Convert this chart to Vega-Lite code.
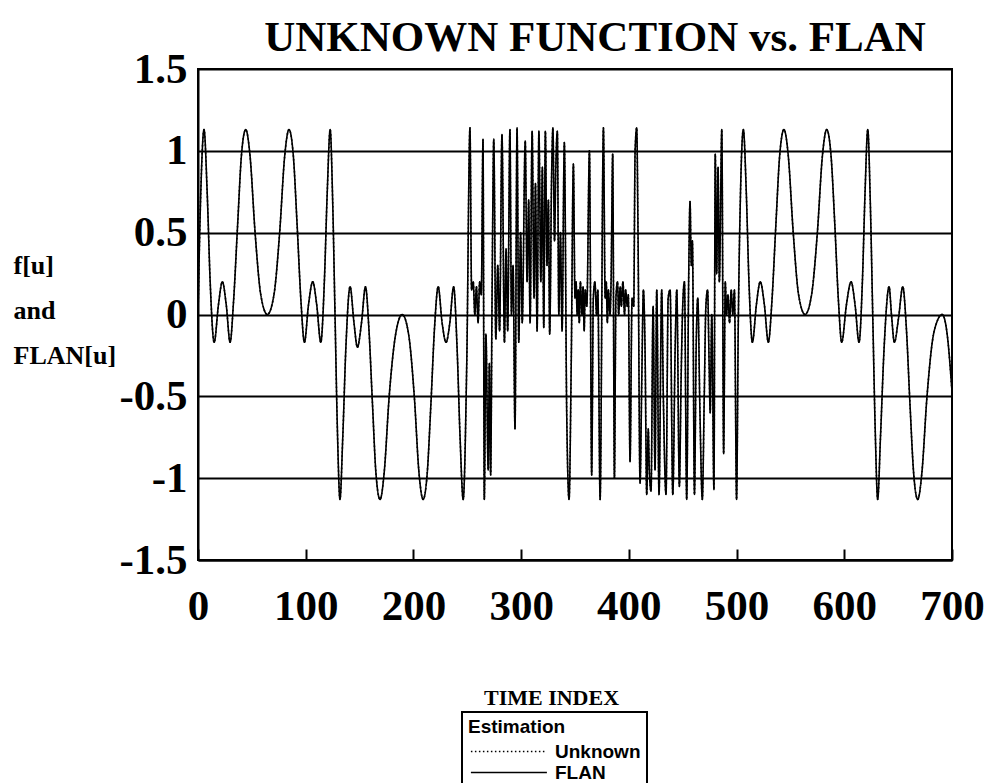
{
  "$schema": "https://vega.github.io/schema/vega-lite/v6.json",
  "width": 754,
  "height": 491,
  "autosize": {"type": "none"},
  "padding": {"left": 198, "top": 69, "right": 37, "bottom": 223},
  "background": "white",
  "title": {
    "text": "UNKNOWN FUNCTION vs. FLAN",
    "font": "Liberation Serif",
    "fontWeight": "bold",
    "fontSize": 43,
    "color": "black",
    "anchor": "middle",
    "dx": 20,
    "offset": -12
  },
  "config": {
    "view": {"stroke": "black", "strokeWidth": 2},
    "legend": {"strokeWidth": 2},
    "axis": {
      "labelFont": "Liberation Serif",
      "labelFontWeight": "bold",
      "labelFontSize": 43,
      "labelColor": "black",
      "titleFont": "Liberation Serif",
      "titleFontWeight": "bold",
      "titleColor": "black",
      "domainColor": "black",
      "domainWidth": 2
    }
  },
  "data": {
    "values": [
      {"u": 0, "Unknown": 0.0, "FLAN": 0.0},
      {"u": 2.6, "Unknown": 0.75, "FLAN": 0.75},
      {"u": 5.6, "Unknown": 1.13, "FLAN": 1.13},
      {"u": 8.5, "Unknown": 0.75, "FLAN": 0.75},
      {"u": 11.3, "Unknown": 0.2, "FLAN": 0.2},
      {"u": 15, "Unknown": -0.17, "FLAN": -0.17},
      {"u": 19, "Unknown": 0.06, "FLAN": 0.06},
      {"u": 22.6, "Unknown": 0.2, "FLAN": 0.2},
      {"u": 26.2, "Unknown": 0.06, "FLAN": 0.06},
      {"u": 29.8, "Unknown": -0.17, "FLAN": -0.17},
      {"u": 33, "Unknown": 0.08, "FLAN": 0.08},
      {"u": 36.8, "Unknown": 0.55, "FLAN": 0.55},
      {"u": 40.3, "Unknown": 0.97, "FLAN": 0.97},
      {"u": 44.3, "Unknown": 1.13, "FLAN": 1.13},
      {"u": 48.3, "Unknown": 0.97, "FLAN": 0.97},
      {"u": 53, "Unknown": 0.5, "FLAN": 0.5},
      {"u": 58.3, "Unknown": 0.12, "FLAN": 0.12},
      {"u": 64.4, "Unknown": 0.0, "FLAN": 0.0},
      {"u": 70.5, "Unknown": 0.12, "FLAN": 0.12},
      {"u": 75.8, "Unknown": 0.5, "FLAN": 0.5},
      {"u": 80.5, "Unknown": 0.97, "FLAN": 0.97},
      {"u": 84.5, "Unknown": 1.13, "FLAN": 1.13},
      {"u": 88.5, "Unknown": 0.97, "FLAN": 0.97},
      {"u": 92, "Unknown": 0.55, "FLAN": 0.55},
      {"u": 95.6, "Unknown": 0.08, "FLAN": 0.08},
      {"u": 98.8, "Unknown": -0.17, "FLAN": -0.17},
      {"u": 102.6, "Unknown": 0.06, "FLAN": 0.06},
      {"u": 106.5, "Unknown": 0.2, "FLAN": 0.2},
      {"u": 110.2, "Unknown": 0.06, "FLAN": 0.06},
      {"u": 114, "Unknown": -0.17, "FLAN": -0.17},
      {"u": 117.3, "Unknown": 0.2, "FLAN": 0.2},
      {"u": 120, "Unknown": 0.75, "FLAN": 0.75},
      {"u": 122.7, "Unknown": 1.13, "FLAN": 1.13},
      {"u": 125, "Unknown": 0.7, "FLAN": 0.7},
      {"u": 127.2, "Unknown": 0.0, "FLAN": 0.0},
      {"u": 129.4, "Unknown": -0.7, "FLAN": -0.7},
      {"u": 131.8, "Unknown": -1.13, "FLAN": -1.13},
      {"u": 134.4, "Unknown": -0.75, "FLAN": -0.75},
      {"u": 137.3, "Unknown": -0.2, "FLAN": -0.2},
      {"u": 141.2, "Unknown": 0.17, "FLAN": 0.17},
      {"u": 144.8, "Unknown": -0.05, "FLAN": -0.05},
      {"u": 148, "Unknown": -0.2, "FLAN": -0.2},
      {"u": 151.8, "Unknown": -0.05, "FLAN": -0.05},
      {"u": 155.5, "Unknown": 0.17, "FLAN": 0.17},
      {"u": 158.6, "Unknown": -0.08, "FLAN": -0.08},
      {"u": 162, "Unknown": -0.55, "FLAN": -0.55},
      {"u": 165.2, "Unknown": -0.97, "FLAN": -0.97},
      {"u": 169, "Unknown": -1.13, "FLAN": -1.13},
      {"u": 172.8, "Unknown": -0.97, "FLAN": -0.97},
      {"u": 177.5, "Unknown": -0.5, "FLAN": -0.5},
      {"u": 183.5, "Unknown": -0.12, "FLAN": -0.12},
      {"u": 189.6, "Unknown": 0.0, "FLAN": 0.0},
      {"u": 195.5, "Unknown": -0.12, "FLAN": -0.12},
      {"u": 200.8, "Unknown": -0.5, "FLAN": -0.5},
      {"u": 205.2, "Unknown": -0.97, "FLAN": -0.97},
      {"u": 209, "Unknown": -1.13, "FLAN": -1.13},
      {"u": 212.8, "Unknown": -0.97, "FLAN": -0.97},
      {"u": 216.2, "Unknown": -0.55, "FLAN": -0.55},
      {"u": 219.6, "Unknown": -0.08, "FLAN": -0.08},
      {"u": 223, "Unknown": 0.17, "FLAN": 0.17},
      {"u": 226.6, "Unknown": -0.05, "FLAN": -0.05},
      {"u": 230.3, "Unknown": -0.17, "FLAN": -0.17},
      {"u": 233.8, "Unknown": -0.05, "FLAN": -0.05},
      {"u": 237.3, "Unknown": 0.17, "FLAN": 0.17},
      {"u": 240.5, "Unknown": -0.2, "FLAN": -0.2},
      {"u": 243.3, "Unknown": -0.75, "FLAN": -0.75},
      {"u": 246.2, "Unknown": -1.13, "FLAN": -1.13},
      {"u": 249.5, "Unknown": -0.3, "FLAN": -0.3},
      {"u": 252.5, "Unknown": 1.14, "FLAN": 1.14},
      {"u": 254, "Unknown": 0.15, "FLAN": 0.15},
      {"u": 255.5, "Unknown": 0.2, "FLAN": 0.2},
      {"u": 257, "Unknown": 0.0, "FLAN": 0.0},
      {"u": 258.5, "Unknown": 0.17, "FLAN": 0.17},
      {"u": 260, "Unknown": -0.05, "FLAN": -0.05},
      {"u": 261.5, "Unknown": 0.2, "FLAN": 0.2},
      {"u": 263, "Unknown": 0.12, "FLAN": 0.12},
      {"u": 264.6, "Unknown": 1.07, "FLAN": 1.07},
      {"u": 265.8, "Unknown": -1.13, "FLAN": -1.13},
      {"u": 267.3, "Unknown": -0.12, "FLAN": -0.12},
      {"u": 269.4, "Unknown": -0.95, "FLAN": -0.95},
      {"u": 270.5, "Unknown": -0.3, "FLAN": -0.3},
      {"u": 271.7, "Unknown": -0.98, "FLAN": -0.98},
      {"u": 273, "Unknown": 0.1, "FLAN": 0.1},
      {"u": 274.6, "Unknown": 1.07, "FLAN": 1.07},
      {"u": 276.5, "Unknown": -0.15, "FLAN": -0.15},
      {"u": 278.3, "Unknown": 0.3, "FLAN": 0.3},
      {"u": 280, "Unknown": -0.1, "FLAN": -0.1},
      {"u": 282.2, "Unknown": 1.1, "FLAN": 1.1},
      {"u": 284.5, "Unknown": -0.17, "FLAN": -0.17},
      {"u": 286, "Unknown": 0.4, "FLAN": 0.4},
      {"u": 287.5, "Unknown": -0.1, "FLAN": -0.1},
      {"u": 289.6, "Unknown": 1.13, "FLAN": 1.13},
      {"u": 291, "Unknown": 0.0, "FLAN": 0.0},
      {"u": 292.5, "Unknown": 0.3, "FLAN": 0.3},
      {"u": 294.3, "Unknown": -0.7, "FLAN": -0.7},
      {"u": 296.2, "Unknown": 1.14, "FLAN": 1.14},
      {"u": 297.8, "Unknown": -0.17, "FLAN": -0.17},
      {"u": 299.5, "Unknown": 0.5, "FLAN": 0.5},
      {"u": 301, "Unknown": -0.05, "FLAN": -0.05},
      {"u": 303.8, "Unknown": 1.06, "FLAN": 1.06},
      {"u": 305.5, "Unknown": 0.2, "FLAN": 0.2},
      {"u": 307, "Unknown": 0.7, "FLAN": 0.7},
      {"u": 308.3, "Unknown": -0.05, "FLAN": -0.05},
      {"u": 310.2, "Unknown": 1.12, "FLAN": 1.12},
      {"u": 312, "Unknown": 0.1, "FLAN": 0.1},
      {"u": 313.3, "Unknown": 0.8, "FLAN": 0.8},
      {"u": 314.8, "Unknown": -0.1, "FLAN": -0.1},
      {"u": 316.5, "Unknown": 1.12, "FLAN": 1.12},
      {"u": 318.3, "Unknown": 0.2, "FLAN": 0.2},
      {"u": 319.7, "Unknown": 0.9, "FLAN": 0.9},
      {"u": 321, "Unknown": -0.08, "FLAN": -0.08},
      {"u": 322.5, "Unknown": 1.12, "FLAN": 1.12},
      {"u": 324, "Unknown": 0.3, "FLAN": 0.3},
      {"u": 325.3, "Unknown": 0.7, "FLAN": 0.7},
      {"u": 326.5, "Unknown": -0.12, "FLAN": -0.12},
      {"u": 328.3, "Unknown": 0.85, "FLAN": 0.85},
      {"u": 329.5, "Unknown": 1.14, "FLAN": 1.14},
      {"u": 331, "Unknown": 0.45, "FLAN": 0.45},
      {"u": 332.2, "Unknown": 0.9, "FLAN": 0.9},
      {"u": 333.6, "Unknown": 1.12, "FLAN": 1.12},
      {"u": 335, "Unknown": 0.0, "FLAN": 0.0},
      {"u": 336.5, "Unknown": 0.5, "FLAN": 0.5},
      {"u": 338, "Unknown": -0.1, "FLAN": -0.1},
      {"u": 340.1, "Unknown": 1.05, "FLAN": 1.05},
      {"u": 342.3, "Unknown": -0.6, "FLAN": -0.6},
      {"u": 344.5, "Unknown": -1.13, "FLAN": -1.13},
      {"u": 346.5, "Unknown": -0.3, "FLAN": -0.3},
      {"u": 348.5, "Unknown": 0.92, "FLAN": 0.92},
      {"u": 350, "Unknown": 0.1, "FLAN": 0.1},
      {"u": 351, "Unknown": 0.2, "FLAN": 0.2},
      {"u": 352, "Unknown": 0.0, "FLAN": 0.0},
      {"u": 353, "Unknown": 0.15, "FLAN": 0.15},
      {"u": 354, "Unknown": -0.05, "FLAN": -0.05},
      {"u": 355, "Unknown": 0.2, "FLAN": 0.2},
      {"u": 356.5, "Unknown": 0.0, "FLAN": 0.0},
      {"u": 357.5, "Unknown": 0.17, "FLAN": 0.17},
      {"u": 358.5, "Unknown": -0.1, "FLAN": -0.1},
      {"u": 359.5, "Unknown": 0.15, "FLAN": 0.15},
      {"u": 361, "Unknown": 0.05, "FLAN": 0.05},
      {"u": 363.4, "Unknown": 1.0, "FLAN": 1.0},
      {"u": 365.5, "Unknown": -0.98, "FLAN": -0.98},
      {"u": 367, "Unknown": 0.1, "FLAN": 0.1},
      {"u": 368.5, "Unknown": 0.2, "FLAN": 0.2},
      {"u": 370, "Unknown": 0.0, "FLAN": 0.0},
      {"u": 371.2, "Unknown": 0.15, "FLAN": 0.15},
      {"u": 373.3, "Unknown": -1.13, "FLAN": -1.13},
      {"u": 376.4, "Unknown": 1.14, "FLAN": 1.14},
      {"u": 378, "Unknown": 0.1, "FLAN": 0.1},
      {"u": 379, "Unknown": 0.2, "FLAN": 0.2},
      {"u": 380, "Unknown": -0.05, "FLAN": -0.05},
      {"u": 381, "Unknown": 0.15, "FLAN": 0.15},
      {"u": 382.5, "Unknown": 0.0, "FLAN": 0.0},
      {"u": 383.5, "Unknown": 0.2, "FLAN": 0.2},
      {"u": 385, "Unknown": 0.98, "FLAN": 0.98},
      {"u": 386.6, "Unknown": -1.0, "FLAN": -1.0},
      {"u": 388, "Unknown": 0.1, "FLAN": 0.1},
      {"u": 389.5, "Unknown": 0.2, "FLAN": 0.2},
      {"u": 390.5, "Unknown": 0.0, "FLAN": 0.0},
      {"u": 392, "Unknown": 0.17, "FLAN": 0.17},
      {"u": 393, "Unknown": 0.05, "FLAN": 0.05},
      {"u": 394.5, "Unknown": 0.2, "FLAN": 0.2},
      {"u": 396, "Unknown": 0.0, "FLAN": 0.0},
      {"u": 397, "Unknown": 0.15, "FLAN": 0.15},
      {"u": 398.5, "Unknown": 0.05, "FLAN": 0.05},
      {"u": 399.5, "Unknown": 0.12, "FLAN": 0.12},
      {"u": 401.1, "Unknown": -0.9, "FLAN": -0.9},
      {"u": 403, "Unknown": 0.1, "FLAN": 0.1},
      {"u": 404.5, "Unknown": 0.05, "FLAN": 0.05},
      {"u": 405.8, "Unknown": 1.0, "FLAN": 1.0},
      {"u": 407.3, "Unknown": 1.14, "FLAN": 1.14},
      {"u": 408.5, "Unknown": 0.5, "FLAN": 0.5},
      {"u": 410.4, "Unknown": -1.03, "FLAN": -1.03},
      {"u": 412, "Unknown": -0.4, "FLAN": -0.4},
      {"u": 413.5, "Unknown": 0.15, "FLAN": 0.15},
      {"u": 415, "Unknown": -0.2, "FLAN": -0.2},
      {"u": 416.6, "Unknown": -1.1, "FLAN": -1.1},
      {"u": 418, "Unknown": -0.7, "FLAN": -0.7},
      {"u": 419, "Unknown": -0.95, "FLAN": -0.95},
      {"u": 420.6, "Unknown": -1.08, "FLAN": -1.08},
      {"u": 422.5, "Unknown": 0.05, "FLAN": 0.05},
      {"u": 424.3, "Unknown": -0.95, "FLAN": -0.95},
      {"u": 425.9, "Unknown": 0.15, "FLAN": 0.15},
      {"u": 428, "Unknown": -1.1, "FLAN": -1.1},
      {"u": 430.5, "Unknown": 0.15, "FLAN": 0.15},
      {"u": 432, "Unknown": -0.5, "FLAN": -0.5},
      {"u": 434.5, "Unknown": -1.1, "FLAN": -1.1},
      {"u": 436.5, "Unknown": 0.1, "FLAN": 0.1},
      {"u": 438.3, "Unknown": 0.15, "FLAN": 0.15},
      {"u": 440.8, "Unknown": -1.1, "FLAN": -1.1},
      {"u": 443, "Unknown": -0.2, "FLAN": -0.2},
      {"u": 444.5, "Unknown": 0.15, "FLAN": 0.15},
      {"u": 446.9, "Unknown": -1.05, "FLAN": -1.05},
      {"u": 448.5, "Unknown": -0.4, "FLAN": -0.4},
      {"u": 450, "Unknown": 0.05, "FLAN": 0.05},
      {"u": 451.6, "Unknown": 0.2, "FLAN": 0.2},
      {"u": 453.7, "Unknown": -1.13, "FLAN": -1.13},
      {"u": 455.5, "Unknown": 0.2, "FLAN": 0.2},
      {"u": 456.8, "Unknown": 0.69, "FLAN": 0.69},
      {"u": 458, "Unknown": 0.3, "FLAN": 0.3},
      {"u": 459, "Unknown": 0.45, "FLAN": 0.45},
      {"u": 460.9, "Unknown": -1.1, "FLAN": -1.1},
      {"u": 462.5, "Unknown": -0.2, "FLAN": -0.2},
      {"u": 464, "Unknown": 0.1, "FLAN": 0.1},
      {"u": 466, "Unknown": -0.6, "FLAN": -0.6},
      {"u": 468.2, "Unknown": -1.13, "FLAN": -1.13},
      {"u": 470, "Unknown": -0.5, "FLAN": -0.5},
      {"u": 471.5, "Unknown": 0.05, "FLAN": 0.05},
      {"u": 473.1, "Unknown": 0.15, "FLAN": 0.15},
      {"u": 474.5, "Unknown": -0.3, "FLAN": -0.3},
      {"u": 475.5, "Unknown": -0.6, "FLAN": -0.6},
      {"u": 477, "Unknown": 0.0, "FLAN": 0.0},
      {"u": 479, "Unknown": -1.07, "FLAN": -1.07},
      {"u": 480.2, "Unknown": 0.98, "FLAN": 0.98},
      {"u": 481.5, "Unknown": 0.25, "FLAN": 0.25},
      {"u": 482.8, "Unknown": 0.9, "FLAN": 0.9},
      {"u": 484, "Unknown": 0.2, "FLAN": 0.2},
      {"u": 486.3, "Unknown": 1.13, "FLAN": 1.13},
      {"u": 488, "Unknown": -0.85, "FLAN": -0.85},
      {"u": 489.5, "Unknown": 0.2, "FLAN": 0.2},
      {"u": 490.7, "Unknown": 0.0, "FLAN": 0.0},
      {"u": 492, "Unknown": 0.12, "FLAN": 0.12},
      {"u": 493.5, "Unknown": -0.05, "FLAN": -0.05},
      {"u": 495, "Unknown": 0.15, "FLAN": 0.15},
      {"u": 496.5, "Unknown": 0.0, "FLAN": 0.0},
      {"u": 498, "Unknown": 0.15, "FLAN": 0.15},
      {"u": 500, "Unknown": -1.13, "FLAN": -1.13},
      {"u": 501.6, "Unknown": -0.05, "FLAN": -0.05},
      {"u": 503.5, "Unknown": 0.7, "FLAN": 0.7},
      {"u": 506.3, "Unknown": 1.13, "FLAN": 1.13},
      {"u": 509, "Unknown": 0.75, "FLAN": 0.75},
      {"u": 511.5, "Unknown": 0.2, "FLAN": 0.2},
      {"u": 514.7, "Unknown": -0.17, "FLAN": -0.17},
      {"u": 518.4, "Unknown": 0.06, "FLAN": 0.06},
      {"u": 522, "Unknown": 0.2, "FLAN": 0.2},
      {"u": 525.8, "Unknown": 0.06, "FLAN": 0.06},
      {"u": 529.5, "Unknown": -0.17, "FLAN": -0.17},
      {"u": 532.8, "Unknown": 0.08, "FLAN": 0.08},
      {"u": 536.5, "Unknown": 0.55, "FLAN": 0.55},
      {"u": 540, "Unknown": 0.97, "FLAN": 0.97},
      {"u": 544, "Unknown": 1.13, "FLAN": 1.13},
      {"u": 548, "Unknown": 0.97, "FLAN": 0.97},
      {"u": 552.6, "Unknown": 0.5, "FLAN": 0.5},
      {"u": 557.6, "Unknown": 0.12, "FLAN": 0.12},
      {"u": 563.6, "Unknown": 0.0, "FLAN": 0.0},
      {"u": 569.6, "Unknown": 0.12, "FLAN": 0.12},
      {"u": 575, "Unknown": 0.5, "FLAN": 0.5},
      {"u": 579.7, "Unknown": 0.97, "FLAN": 0.97},
      {"u": 583.7, "Unknown": 1.13, "FLAN": 1.13},
      {"u": 587.7, "Unknown": 0.97, "FLAN": 0.97},
      {"u": 591.2, "Unknown": 0.55, "FLAN": 0.55},
      {"u": 594.6, "Unknown": 0.08, "FLAN": 0.08},
      {"u": 597.6, "Unknown": -0.17, "FLAN": -0.17},
      {"u": 602, "Unknown": 0.06, "FLAN": 0.06},
      {"u": 606.3, "Unknown": 0.2, "FLAN": 0.2},
      {"u": 610, "Unknown": 0.06, "FLAN": 0.06},
      {"u": 613.7, "Unknown": -0.17, "FLAN": -0.17},
      {"u": 616.8, "Unknown": 0.2, "FLAN": 0.2},
      {"u": 619.3, "Unknown": 0.75, "FLAN": 0.75},
      {"u": 621.8, "Unknown": 1.13, "FLAN": 1.13},
      {"u": 624.1, "Unknown": 0.7, "FLAN": 0.7},
      {"u": 626.4, "Unknown": 0.0, "FLAN": 0.0},
      {"u": 628.7, "Unknown": -0.7, "FLAN": -0.7},
      {"u": 631, "Unknown": -1.13, "FLAN": -1.13},
      {"u": 633.6, "Unknown": -0.75, "FLAN": -0.75},
      {"u": 637, "Unknown": -0.2, "FLAN": -0.2},
      {"u": 641.6, "Unknown": 0.17, "FLAN": 0.17},
      {"u": 643.8, "Unknown": 0.0, "FLAN": 0.0},
      {"u": 646.5, "Unknown": -0.17, "FLAN": -0.17},
      {"u": 650.4, "Unknown": -0.02, "FLAN": -0.02},
      {"u": 654.3, "Unknown": 0.17, "FLAN": 0.17},
      {"u": 657.6, "Unknown": -0.08, "FLAN": -0.08},
      {"u": 661, "Unknown": -0.55, "FLAN": -0.55},
      {"u": 664.4, "Unknown": -0.97, "FLAN": -0.97},
      {"u": 668.2, "Unknown": -1.13, "FLAN": -1.13},
      {"u": 672, "Unknown": -0.97, "FLAN": -0.97},
      {"u": 676.8, "Unknown": -0.5, "FLAN": -0.5},
      {"u": 683.5, "Unknown": -0.1, "FLAN": -0.1},
      {"u": 691, "Unknown": 0.0, "FLAN": 0.0},
      {"u": 695.5, "Unknown": -0.12, "FLAN": -0.12},
      {"u": 700, "Unknown": -0.47, "FLAN": -0.47}
    ]
  },
  "transform": [{"fold": ["Unknown", "FLAN"], "as": ["series", "value"]}],
  "mark": {"type": "line", "interpolate": "monotone", "color": "black", "strokeWidth": 1.6, "clip": true},
  "encoding": {
    "x": {
      "field": "u",
      "type": "quantitative",
      "scale": {"domain": [0, 700], "nice": false},
      "axis": {
        "values": [0, 100, 200, 300, 400, 500, 600, 700],
        "grid": false,
        "tickSize": -11,
        "tickWidth": 2,
        "tickColor": "black",
        "labelPadding": 36,
        "labelFlush": false,
        "title": "TIME INDEX",
        "titleFontSize": 22,
        "titleX": 353,
        "titleY": 144,
        "titleBaseline": "alphabetic"
      }
    },
    "y": {
      "field": "value",
      "type": "quantitative",
      "scale": {"domain": [-1.5, 1.5], "nice": false},
      "axis": {
        "values": [-1.5, -1, -0.5, 0, 0.5, 1, 1.5],
        "labelExpr": "toString(datum.value)",
        "grid": true,
        "gridColor": "black",
        "gridWidth": 2,
        "gridOpacity": 1,
        "ticks": false,
        "labelPadding": 11,
        "labelFlush": false,
        "title": ["f[u]", "and", "FLAN[u]"],
        "titleAngle": 0,
        "titleAlign": "left",
        "titleBaseline": "alphabetic",
        "titleFontSize": 26,
        "titleLineHeight": 45,
        "titleX": -185,
        "titleY": 204
      }
    },
    "strokeDash": {
      "field": "series",
      "type": "nominal",
      "scale": {"domain": ["Unknown", "FLAN"], "range": [[1.5, 2.5], [1, 0]]},
      "legend": {
        "title": "Estimation",
        "orient": "none",
        "legendX": 264,
        "legendY": 643,
        "direction": "vertical",
        "strokeColor": "black",
        "fillColor": "white",
        "padding": 6,
        "titleFont": "Liberation Sans",
        "titleFontWeight": "bold",
        "titleFontSize": 19,
        "titleColor": "black",
        "titlePadding": 4,
        "labelFont": "Liberation Sans",
        "labelFontWeight": "bold",
        "labelFontSize": 19,
        "labelColor": "black",
        "labelOffset": 66,
        "symbolType": "M-0.8,0H7.2",
        "symbolStrokeColor": "black",
        "symbolStrokeWidth": 1.3,
        "symbolFillColor": "transparent",
        "symbolSize": 361,
        "rowPadding": 0
      }
    }
  }
}
